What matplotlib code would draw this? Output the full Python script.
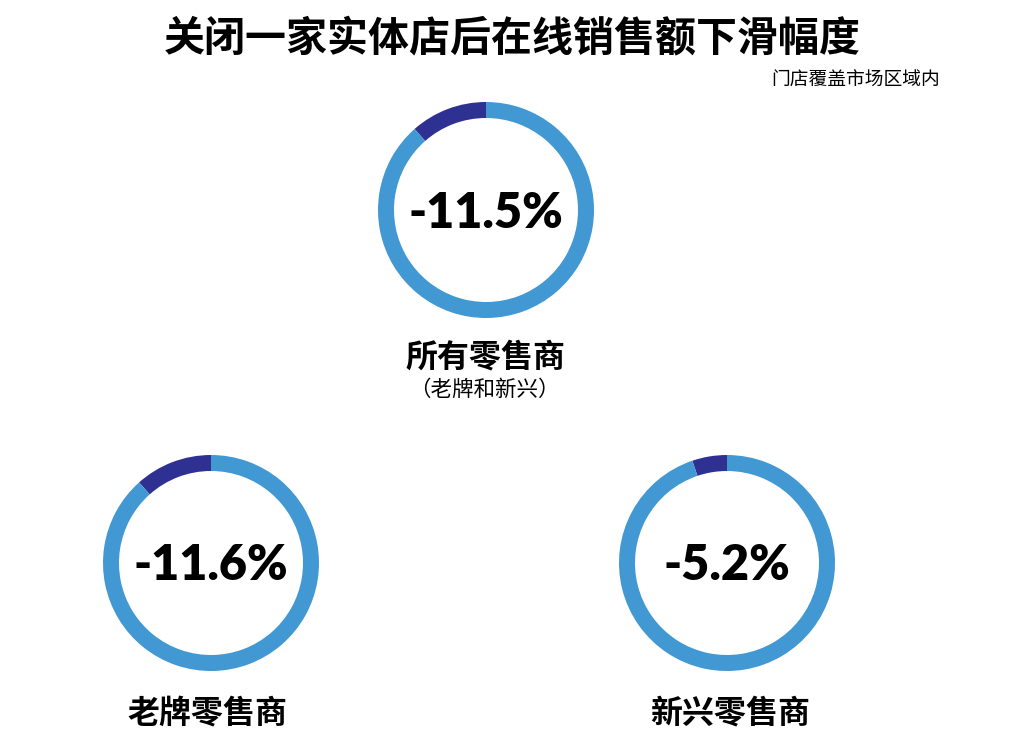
import matplotlib.pyplot as plt

plt.rcParams['font.family'] = ['Noto Sans CJK SC', 'DejaVu Sans']

# data
groups = ['所有零售商', '老牌零售商', '新兴零售商']
declines = [11.5, 11.6, 5.2]
value_labels = ['-11.5%', '-11.6%', '-5.2%']
sub_note = '（老牌和新兴）'

dark = '#2e3192'
light = '#4198d2'

W, H = 1024, 751
fig = plt.figure(figsize=(W / 100, H / 100), dpi=100)
ax = fig.add_axes([0, 0, 1, 1])

# ring centres in pixel space (y measured from the top)
centres = [(486, 210), (211, 563), (727, 563)]
radius = 108
ring = 16

for (cx, cy), d, lab in zip(centres, declines, value_labels):
    ax.pie([d, 100 - d], colors=[dark, light], startangle=90, counterclock=True,
           radius=radius, center=(cx, H - cy),
           wedgeprops=dict(width=ring, linewidth=0))
    ax.text(cx, H - cy - 3, lab, ha='center', va='center', fontsize=35,
            fontweight='heavy', family=['Lato', 'DejaVu Sans'], color='black')

ax.text(486, H - 357, groups[0], ha='center', va='center', fontsize=23, fontweight='bold')
ax.text(484, H - 390, sub_note, ha='center', va='center', fontsize=15.5)
ax.text(207, H - 713, groups[1], ha='center', va='center', fontsize=23, fontweight='bold')
ax.text(730, H - 713, groups[2], ha='center', va='center', fontsize=23, fontweight='bold')

ax.text(512, H - 38, '关闭一家实体店后在线销售额下滑幅度', ha='center', va='center',
        fontsize=29.5, fontweight='bold')
ax.text(940, H - 80, '门店覆盖市场区域内', ha='right', va='center', fontsize=13.5)

ax.set_xlim(0, W)
ax.set_ylim(0, H)
ax.set_aspect('equal')
ax.axis('off')

fig.savefig('out.png', dpi=100, facecolor='white')
